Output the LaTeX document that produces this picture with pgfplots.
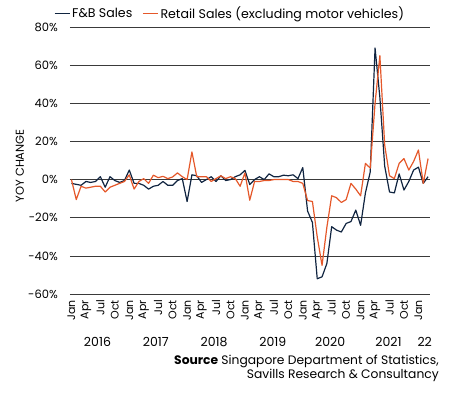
\documentclass[border=0pt]{standalone}
\usepackage{pgfplots}
\pgfplotsset{compat=1.18}
\usepackage{pgfplotstable}
\usepackage{fontspec}
\setmainfont{Poppins}
\definecolor{fbnavy}{HTML}{102440}
\definecolor{rtorange}{HTML}{E5582A}
\definecolor{gridc}{HTML}{3A3A3A}
\pgfplotstableread{
m fb rt
0 -2 0
1 -2.5 -10.5
2 -3 -3.5
3 -1 -4.5
4 -1.5 -4
5 -1 -3.5
6 1.5 -3.5
7 -4 -6.5
8 1.5 -4
9 -0.5 -3
10 -1.5 -2
11 -0.5 -1
12 5 2.5
13 -2 -5
14 -2 -1
15 -3 0.5
16 -5 -2
17 -3.5 2.3
18 -3 1
19 -1 1.7
20 -3 0.5
21 -3 1.4
22 -0.5 3.5
23 0.5 1.5
24 -11.5 0
25 2.5 14.5
26 2 1.5
27 -1.5 1.5
28 0 1.5
29 1.5 -1
30 -1 0.5
31 2 2
32 -0.5 0.5
33 0 1.5
34 1.5 0.5
35 2.5 -3.5
36 4.8 3.5
37 -2.6 -10.8
38 0 -1
39 1.5 -1
40 0 -0.5
41 3 -0.5
42 1.5 0
43 1.5 0
44 2.3 0
45 2 0
46 2.5 -1
47 0.5 -1
48 6.3 -2
49 -16.5 -11
50 -22.5 -11.5
51 -52 -30
52 -51 -45
53 -44 -25
54 -24.7 -8.5
55 -26.5 -9.5
56 -27.5 -12
57 -23 -10.5
58 -22 -2
59 -16 -5
60 -24 -8.5
61 -7 8.5
62 4 6
63 69 40
64 43 65
65 7 18
66 -6.5 2
67 -7 0.5
68 3 8.5
69 -5.5 11
70 -1 5
71 5 9.5
72 6.5 15.5
73 -2 -2
74 1.5 11
}\datatable
\begin{document}
\begin{tikzpicture}
\begin{axis}[
  scale only axis,
  width=360bp, height=267bp,
  xmin=-0.3, xmax=74.4,
  ymin=-60, ymax=80,
  ytick={-60,-40,...,80},
  yticklabel={\pgfmathprintnumber{\tick}\%},
  /pgf/number format/assume math mode=true,
  xtick={0,3,...,72},
  xticklabels={Jan,Apr,Jul,Oct,Jan,Apr,Jul,Oct,Jan,Apr,Jul,Oct,Jan,Apr,Jul,Oct,Jan,Apr,Jul,Oct,Jan,Apr,Jul,Oct,Jan},
  xticklabel style={rotate=90, anchor=east, inner sep=0pt, font=\fontsize{11bp}{12bp}\selectfont},
  xticklabel shift=6bp,
  yticklabel style={font=\fontsize{11.5bp}{13bp}\selectfont, inner sep=0pt},
  yticklabel shift=12bp,
  axis line style={draw=none},
  major tick length=0pt,
  ymajorgrids,
  grid style={gridc, line width=0.7pt},
  ylabel={YOY CHANGE},
  ylabel style={at={(axis description cs:-0.139,0.48)}, anchor=center, font=\fontsize{11.5bp}{13bp}\selectfont},
  clip=false,
  legend columns=2,
  legend style={draw=none, fill=none, at={(axis description cs:-0.045,1.052)}, anchor=west,
    font=\fontsize{12.6bp}{14bp}\selectfont, inner sep=0pt,
    /tikz/every even column/.append style={column sep=8bp}},
  legend image code/.code={\draw[#1] (0bp,0bp) -- (15bp,0bp);},
]
\addplot[fbnavy, line width=1.2pt, line join=round] table[x=m, y=fb] {\datatable};
\addlegendentry{F\&B Sales}
\addplot[rtorange, line width=1.2pt, line join=round] table[x=m, y=rt] {\datatable};
\addlegendentry{Retail Sales (excluding motor vehicles)}
\node[yshift=-48bp, font=\fontsize{12.5bp}{13bp}\selectfont] at (axis cs:5.4,-60) {2016};
\node[yshift=-48bp, font=\fontsize{12.5bp}{13bp}\selectfont] at (axis cs:17.5,-60) {2017};
\node[yshift=-48bp, font=\fontsize{12.5bp}{13bp}\selectfont] at (axis cs:29.6,-60) {2018};
\node[yshift=-48bp, font=\fontsize{12.5bp}{13bp}\selectfont] at (axis cs:41.8,-60) {2019};
\node[yshift=-48bp, font=\fontsize{12.5bp}{13bp}\selectfont] at (axis cs:53.7,-60) {2020};
\node[yshift=-48bp, font=\fontsize{12.5bp}{13bp}\selectfont] at (axis cs:65.8,-60) {2021};
\node[yshift=-48bp, font=\fontsize{12.5bp}{13bp}\selectfont] at (axis cs:73.3,-60) {22};
\end{axis}
\node[anchor=north east, align=right, inner sep=0pt, font=\fontsize{12.3bp}{14bp}\selectfont] at (369bp,-61bp) {\textbf{Source} Singapore Department of Statistics,\\Savills Research \& Consultancy};
\pgfresetboundingbox
\path (-70bp,-103bp) rectangle (379bp,294bp);
\end{tikzpicture}
\end{document}
